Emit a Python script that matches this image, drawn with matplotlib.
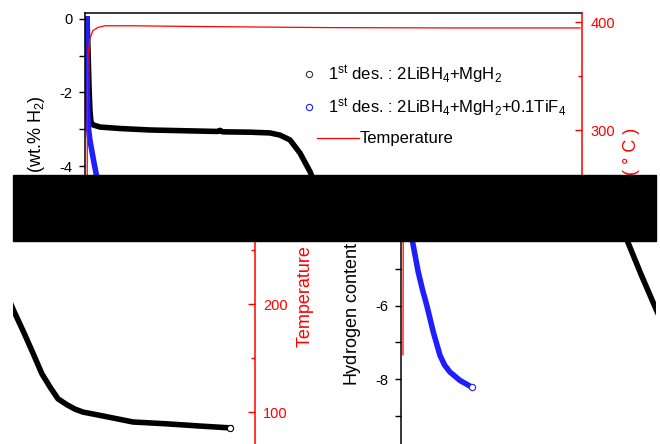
import matplotlib.pyplot as plt
from matplotlib.patches import Rectangle
from matplotlib.transforms import Bbox, TransformedBbox
from matplotlib.lines import Line2D
from matplotlib.ticker import MultipleLocator

plt.rcParams['font.family'] = ['Liberation Sans', 'DejaVu Sans']
plt.rcParams['mathtext.fontset'] = 'custom'
plt.rcParams['mathtext.rm'] = 'Liberation Sans'
plt.rcParams['mathtext.it'] = 'Liberation Sans:italic'
plt.rcParams['mathtext.bf'] = 'Liberation Sans:bold'
plt.rcParams['axes.unicode_minus'] = False

# 1st desorption of 2LiBH4+MgH2 (time in h, wt.% H2)
t_plain = [0, 0.05, 0.1, 0.15, 0.2, 0.3, 0.66, 1.67, 3.18, 5.71,
           6.6, 6.72, 6.85, 8.23, 9.24, 9.75, 10.25, 10.76, 11.26, 12.02,
           12.78, 13.38, 13.79, 14.24, 14.65, 15.05, 15.5, 15.91, 16.31, 17.17,
           18.84, 20.55, 22.22, 23.74]
h_plain = [0, -0.8, -1.8, -2.5, -2.8, -2.88, -2.94, -2.98, -3.02, -3.05,
           -3.06, -3.03, -3.07, -3.08, -3.1, -3.16, -3.29, -3.65, -4.15, -5.15,
           -6.1, -6.8, -7.3, -7.86, -8.22, -8.54, -8.7, -8.82, -8.9, -8.99,
           -9.17, -9.22, -9.28, -9.33]

# 1st desorption of 2LiBH4+MgH2+0.1TiF4
t_tif4 = [0, 0.02, 0.05, 0.08, 0.15, 0.25, 0.35, 0.46, 0.6, 0.77,
          1.0, 1.2, 1.53, 1.87, 2.1, 2.37, 2.88, 3.47]
h_tif4 = [0, -2.0, -2.7, -3.0, -3.3, -3.6, -3.9, -4.2, -4.6, -5.09,
          -5.6, -5.99, -6.72, -7.36, -7.62, -7.81, -8.04, -8.22]

# sample temperature (deg C)
t_temp = [0, 0.01, 0.02, 0.05, 0.15, 0.3, 0.56, 0.91, 2.17, 5.71, 12.27, 18.33, 24.9]
temp = [153, 250, 330, 370, 385, 392, 395, 396.5, 396.5, 395.8, 394.8, 394.5, 394.5]

labels = ['1$^{\\mathrm{st}}$ des. : 2LiBH$_4$+MgH$_2$',
          '1$^{\\mathrm{st}}$ des. : 2LiBH$_4$+MgH$_2$+0.1TiF$_4$',
          'Temperature']
left_label = 'Hydrogen content (wt.% H$_2$)'
right_label = 'Temperature ( \u00b0 C )'

W, H = 660, 444
fig = plt.figure(figsize=(W / 100, H / 100), dpi=100)

# frame of the plot in pixels (y measured from the top)
PL, PR = 85, 582


def h_at(y):
    return (19 - y) / 36.75


def T_at(y):
    return 400 - (y - 22) / 1.08


def fig_box(x0, y0, x1, y1):
    return TransformedBbox(Bbox([[x0 / W, 1 - y1 / H], [x1 / W, 1 - y0 / H]]),
                           fig.transFigure)


def draw_piece(dx, dy, y0, y1, region, top_piece=False, show_left=True, show_right=True):
    ax = fig.add_axes([(PL + dx) / W, 1 - (y1 + dy) / H, (PR - PL) / W, (y1 - y0) / H])
    ax.patch.set_visible(False)
    rx0, ry0, rx1, ry1 = region
    clip = fig_box(max(rx0, PL + dx), max(ry0, y0 + dy),
                   min(rx1, PR + dx), min(ry1, y1 + dy))

    l1, = ax.plot(t_plain, h_plain, color='black', lw=4, marker='o', markevery=[-1],
                  ms=4.5, mfc='white', mec='black', mew=0.8)
    l2, = ax.plot(t_tif4, h_tif4, color='#1e1eff', lw=4, marker='o', markevery=[-1],
                  ms=4.5, mfc='white', mec='#1e1eff', mew=0.8)
    ax.set_xlim(-0.1, 25)
    ax.set_ylim(h_at(y1), h_at(y0))
    ax.yaxis.set_major_locator(MultipleLocator(2))
    ax.yaxis.set_minor_locator(MultipleLocator(1))
    ax.tick_params(axis='y', which='major', direction='out', length=4, width=1,
                   labelsize=10.5, pad=5)
    ax.tick_params(axis='y', which='minor', direction='out', length=4, width=1)
    ax.xaxis.set_visible(False)

    ax2 = ax.twinx()
    l3, = ax2.plot(t_temp, temp, color='red', lw=0.9)
    ax2.set_ylim(T_at(y1), T_at(y0))
    ax2.yaxis.set_major_locator(MultipleLocator(100))
    ax2.yaxis.set_minor_locator(MultipleLocator(50))
    ax2.tick_params(axis='y', which='major', direction='in', length=5, width=1,
                    colors='red', labelsize=10.5, pad=6)
    ax2.tick_params(axis='y', which='minor', direction='in', length=3, width=1,
                    colors='red')
    for line in (l1, l2, l3):
        line.set_clip_box(clip)

    for s in ('bottom', 'right'):
        ax.spines[s].set_visible(False)
    ax.spines['top'].set_visible(top_piece)
    for s in ('bottom', 'left', 'top'):
        ax2.spines[s].set_visible(False)
    ax2.spines['right'].set_color('red')
    for a in (ax, ax2):
        for s in a.spines.values():
            s.set_linewidth(1.1)

    texts = []
    if show_left:
        texts.append(fig.text((37 + dx) / W, 1 - (208 + dy) / H, left_label, rotation=90,
                              ha='center', va='center', fontsize=13, color='black'))
    else:
        ax.spines['left'].set_visible(False)
        ax.tick_params(axis='y', which='both', left=False, labelleft=False)
    if show_right:
        texts.append(fig.text((632 + dx) / W, 1 - (204 + dy) / H, right_label, rotation=90,
                              ha='center', va='center', fontsize=13, color='red'))
    else:
        ax2.spines['right'].set_visible(False)
        ax2.tick_params(axis='y', which='both', right=False, labelright=False)
    for t in texts:
        t.set_clip_on(True)
        t.set_clip_box(fig_box(*region))

    if top_piece:
        h1 = Line2D([], [], ls='none', marker='o', ms=4.5, mfc='none', mec='#333333', mew=0.8)
        h2 = Line2D([], [], ls='none', marker='o', ms=4.5, mfc='none', mec='#1e1eff', mew=0.8)
        h3 = Line2D([], [], color='red', lw=0.9)
        leg1 = ax2.legend([h1, h2], labels[:2], loc='center left',
                          bbox_to_anchor=(301 / W, 1 - 91 / H), bbox_transform=fig.transFigure,
                          frameon=False, fontsize=12, handlelength=1.0, handletextpad=0.6,
                          labelspacing=0.6, borderpad=0, borderaxespad=0)
        ax2.add_artist(leg1)
        ax2.legend([h3], labels[2:], loc='center left',
                   bbox_to_anchor=(317 / W, 1 - 139 / H), bbox_transform=fig.transFigure,
                   frameon=False, fontsize=12, handlelength=2.5, handletextpad=0.05,
                   borderpad=0, borderaxespad=0)


# upper part of the panel, then the two shifted strips below the black band
draw_piece(0, 0, 13, 175, (0, 0, W, 175), top_piece=True)
draw_piece(-327, 66, 175, 378, (13, 241, 329, H), show_left=False)
draw_piece(316, 66, 175, 378, (329, 241, 656, H), show_right=False)

fig.add_artist(Rectangle((13 / W, 1 - 241 / H), (656 - 13) / W, 66 / H,
                         transform=fig.transFigure, color='black', zorder=5))

plt.savefig('out.png', dpi=100)
